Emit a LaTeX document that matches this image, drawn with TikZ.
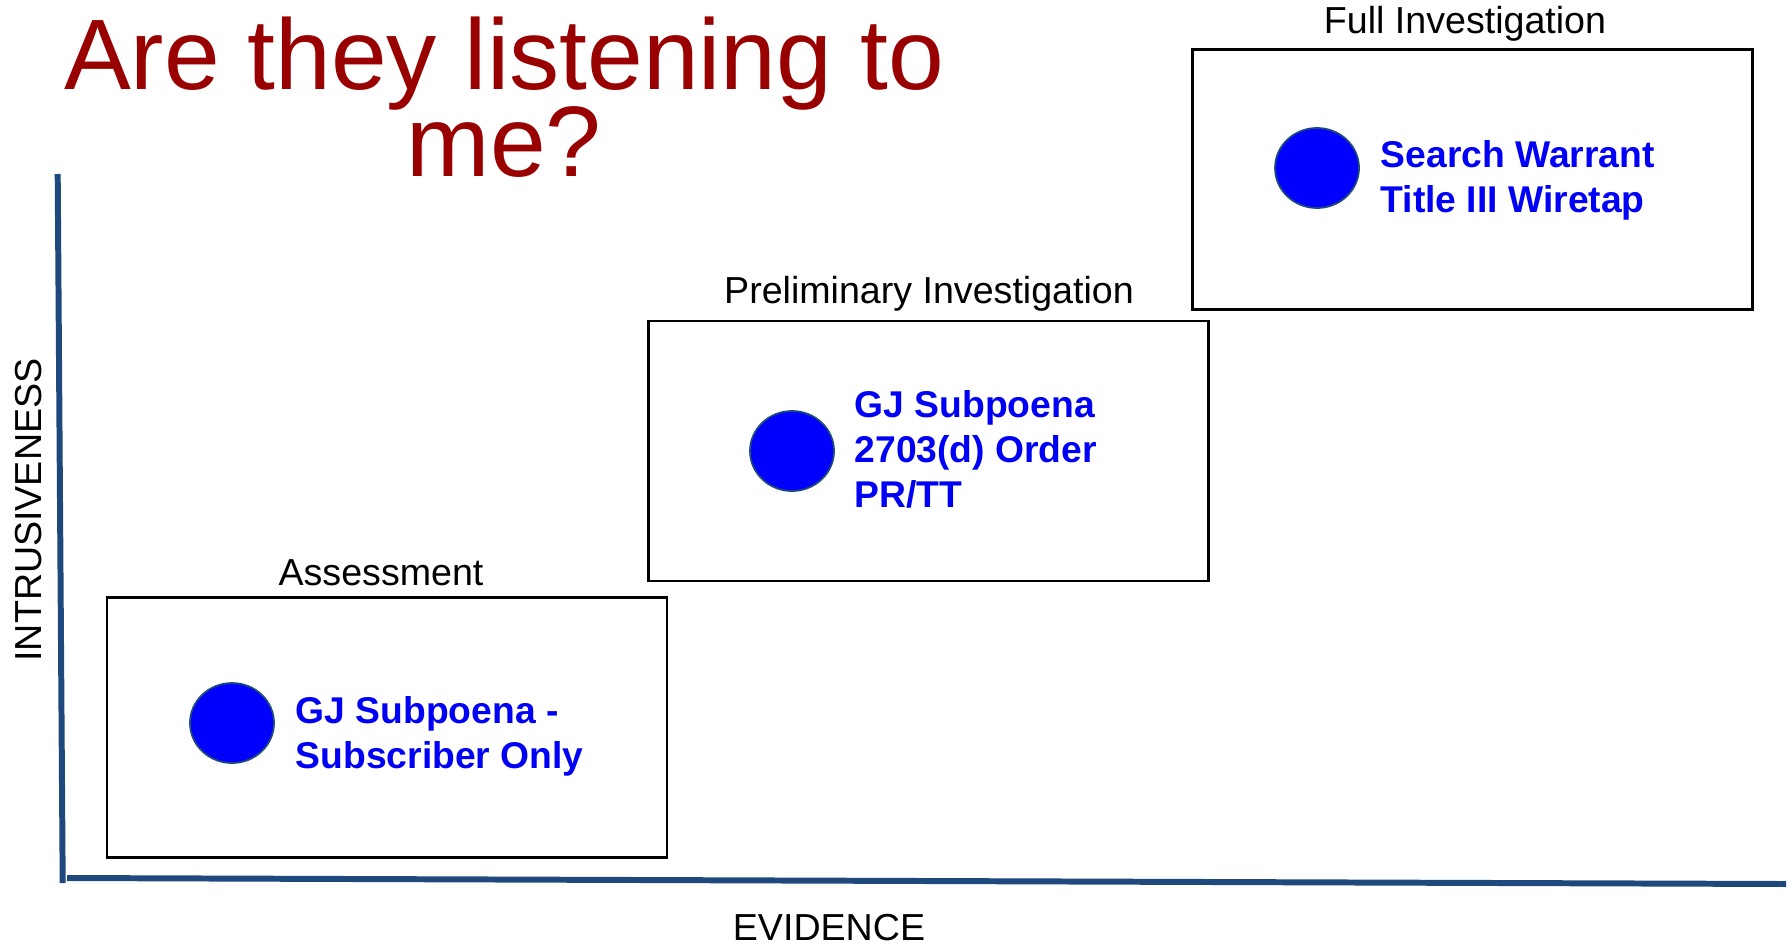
\documentclass[tikz,border=0pt]{standalone}
\usepackage{fontspec}
\setmainfont{Liberation Sans}
\usepackage{xcolor}
\usepackage{tikz}
\usetikzlibrary{calc}
\usetikzlibrary{shapes}
\usetikzlibrary{positioning}
\usetikzlibrary{shapes.geometric}
\definecolor{titlered}{RGB}{153,0,0}
\definecolor{axisblue}{RGB}{31,73,125}
\definecolor{toolblue}{RGB}{0,0,245}
\newcommand{\titlefont}{\fontsize{28.5}{24.75}\selectfont\setlength{\lineskiplimit}{-10cm}\relax}
\tikzset{stage/.style = {rectangle, draw = black, line width = 0.7pt, minimum width = 5.6cm, minimum height = 2.6cm, inner sep = 0pt}}
\tikzset{spot/.style = {ellipse, draw = axisblue, line width = 0.5pt, fill = blue, minimum width = 0.84cm, minimum height = 0.80cm, inner sep = 0pt}}
\tikzset{tool/.style = {anchor = west, align = left, inner sep = 0pt, text = toolblue, font = \fontsize{10.6}{12.8}\selectfont\bfseries}}
\tikzset{stagename/.style = {anchor = base, inner sep = 0pt, font = \fontsize{10.7}{12.8}\selectfont}}
\tikzset{axis/.style = {-, draw = axisblue, line width = 1.7pt}}

\begin{document}
\begin{tikzpicture}
\useasboundingbox (0, 0) rectangle (17.91, 9.46);
\node [align=center, anchor=base, inner sep=0pt, text=titlered, font=\titlefont] (title) at (5.04, 7.70) {Are they listening to\\me?};
% axes
\coordinate (Ytop) at (0.577, 7.72);
\coordinate (Ybot) at (0.627, 0.63);
\coordinate (Xleft) at (0.67, 0.68);
\coordinate (Xright) at (17.86, 0.62);
\draw [axis] (Ytop) to (Ybot);
\draw [axis] (Xleft) to (Xright);
\node [stagename, rotate=90] (intr) at (0.41, 4.36) {INTRUSIVENESS};
\node [stagename] (evid) at (8.29, 0.06) {EVIDENCE};
% stages
\node [stage] (A) at (3.87, 2.185) {};
\node [stage] (P) at (9.285, 4.95) {};
\node [stage] (F) at (14.725, 7.665) {};
\node [stagename] (Aname) at (3.81, 3.61) {Assessment};
\node [stagename] (Pname) at (9.29, 6.43) {Preliminary Investigation};
\node [stagename] (Fname) at (14.65, 9.12) {Full Investigation};
\node [spot] (Aspot) at (2.32, 2.23) {};
\node [spot] (Pspot) at (7.92, 4.95) {};
\node [spot] (Fspot) at (13.17, 7.78) {};
\node [tool] (Atool) at (2.95, 2.10) {GJ Subpoena -\\Subscriber Only};
\node [tool] (Ptool) at (8.54, 4.965) {GJ Subpoena\\2703(d) Order\\PR/TT};
\node [tool] (Ftool) at (13.80, 7.66) {Search Warrant\\Title III Wiretap};
\end{tikzpicture}
\end{document}
